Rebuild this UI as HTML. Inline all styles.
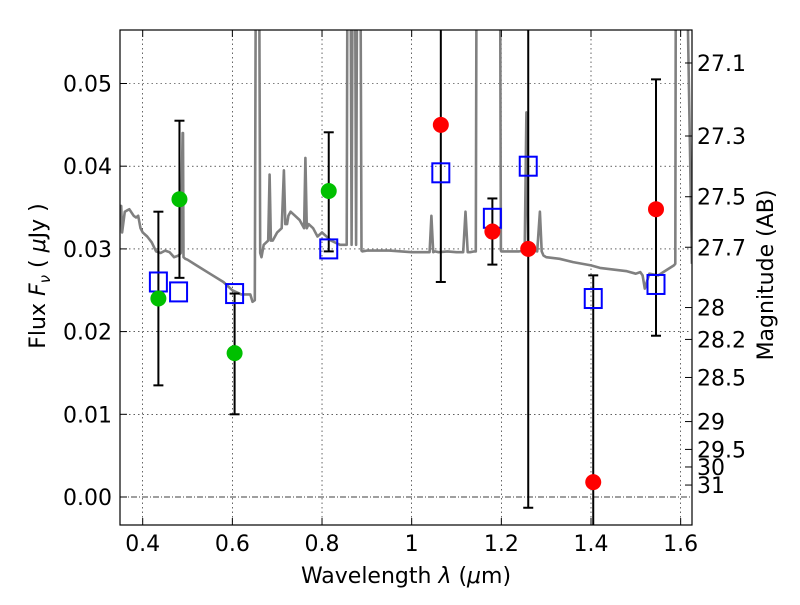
<!DOCTYPE html>
<html><head><meta charset="utf-8"><style>
body{margin:0;background:#fff;}
svg text{font-family:"DejaVu Sans","Liberation Sans",sans-serif;fill:#000;}
</style></head><body>
<svg id="chart" width="800" height="600" xmlns="http://www.w3.org/2000/svg">
<defs><clipPath id="clip"><rect x="120" y="30" width="572" height="495"/></clipPath></defs>
<rect x="0" y="0" width="800" height="600" fill="#fff"/>
<g id="grid"></g>
<g id="spec" clip-path="url(#clip)"></g>
<g id="marks" clip-path="url(#clip)"></g>
<rect x="120" y="30" width="572" height="495" fill="none" stroke="#000" stroke-width="1.2"/>
<g id="axes"></g>
<text x="406" y="583" font-size="22" text-anchor="middle">Wavelength  <tspan font-style="italic">λ</tspan> (<tspan font-style="italic">μ</tspan>m)</text>
<text transform="translate(45,276) rotate(-90)" font-size="22" text-anchor="middle">Flux  <tspan font-style="italic">F</tspan><tspan font-style="italic" font-size="15" dy="5">ν</tspan><tspan dy="-5">  (  </tspan><tspan font-style="italic">μ</tspan>Jy )</text>
<text transform="translate(773,275) rotate(-90)" font-size="22" text-anchor="middle">Magnitude (AB)</text>
</svg>
<script>
const xTicks=[0.4,0.6,0.8,1.0,1.2,1.4,1.6];
const xTickLabels=["0.4","0.6","0.8","1","1.2","1.4","1.6"];
const yTicks=[0,0.01,0.02,0.03,0.04,0.05];
const yTickLabels=["0.00","0.01","0.02","0.03","0.04","0.05"];
const magTicks=[27.1,27.3,27.5,27.7,28,28.2,28.5,29,29.5,30,31];
const specWl=[0.35,0.352,0.354,0.36,0.37,0.38,0.385,0.39,0.395,0.40,0.41,0.42,0.43,0.44,0.45,0.46,0.47,0.48,0.485,0.489,0.49,0.491,0.495,0.50,0.52,0.55,0.58,0.60,0.62,0.64,0.645,0.65,0.652,0.655,0.657,0.66,0.662,0.665,0.67,0.68,0.683,0.686,0.69,0.70,0.71,0.715,0.718,0.722,0.725,0.73,0.74,0.75,0.76,0.763,0.766,0.77,0.78,0.79,0.80,0.82,0.84,0.855,0.858,0.862,0.866,0.87,0.872,0.876,0.88,0.884,0.888,0.89,0.9,0.95,1.0,1.04,1.044,1.048,1.052,1.06,1.08,1.1,1.115,1.12,1.125,1.13,1.14,1.143,1.146,1.196,1.199,1.2,1.22,1.24,1.252,1.256,1.26,1.264,1.27,1.28,1.286,1.29,1.294,1.3,1.33,1.36,1.4,1.42,1.45,1.48,1.5,1.51,1.515,1.52,1.53,1.55,1.57,1.585,1.588,1.59,1.604,1.606,1.625];
const specFlux=[0.0352,0.0352,0.032,0.0345,0.0348,0.034,0.0338,0.034,0.0325,0.032,0.0315,0.0308,0.0297,0.0295,0.0298,0.0296,0.029,0.0292,0.0295,0.044,0.044,0.029,0.0288,0.0287,0.028,0.027,0.026,0.025,0.0245,0.0245,0.0236,0.0238,0.06,0.09,0.09,0.06,0.0295,0.029,0.0305,0.031,0.039,0.031,0.031,0.032,0.0325,0.0395,0.033,0.033,0.034,0.0345,0.034,0.0335,0.0325,0.041,0.0325,0.033,0.0325,0.0315,0.032,0.031,0.0305,0.0305,0.09,0.09,0.0305,0.09,0.09,0.0305,0.09,0.09,0.0298,0.0297,0.0298,0.0298,0.0296,0.0296,0.034,0.0296,0.0297,0.0296,0.0297,0.0296,0.0296,0.0345,0.0296,0.0296,0.0297,0.0297,0.09,0.09,0.0298,0.0297,0.0297,0.0297,0.0298,0.0465,0.0298,0.0298,0.0298,0.0297,0.0345,0.0297,0.0292,0.029,0.0288,0.0284,0.028,0.0277,0.0275,0.0273,0.027,0.0272,0.0268,0.0252,0.027,0.0268,0.0275,0.028,0.0282,0.09,0.09,0.09,0.0282,0.0282];
const greenWl=[0.435,0.482,0.605,0.815];
const greenFlux=[0.0240,0.0360,0.0174,0.0370];
const redWl=[1.065,1.18,1.26,1.405,1.545];
const redFlux=[0.0450,0.0321,0.0300,0.0018,0.0348];
const modelWl=[0.435,0.48,0.605,0.815,1.065,1.18,1.26,1.405,1.545];
const modelFlux=[0.0260,0.0248,0.0246,0.0300,0.0392,0.0337,0.0400,0.0240,0.0257];
const errWl=[0.435,0.482,0.605,0.815,1.065,1.18,1.26,1.405,1.545];
const errLo=[0.0135,0.0265,0.0100,0.0297,0.0260,0.0281,-0.0013,-0.01,0.0195];
const errHi=[0.0345,0.0455,0.0246,0.0441,0.08,0.0361,0.08,0.0268,0.0505];

const X=v=>142.7+(v-0.4)*448.3;
const Y=v=>497-v*8270;
const NS="http://www.w3.org/2000/svg";
function mk(tag,attrs,parent){const e=document.createElementNS(NS,tag);for(const k in attrs)e.setAttribute(k,attrs[k]);parent.appendChild(e);return e;}
const grid=document.getElementById('grid'),axes=document.getElementById('axes'),spec=document.getElementById('spec'),marks=document.getElementById('marks');
xTicks.forEach((t,i)=>{
 const l=mk('line',{x1:X(t),x2:X(t),y1:30,y2:525,stroke:'#000','stroke-width':0.6,'stroke-dasharray':'1.5,3'},grid);
 
 mk('line',{x1:X(t),x2:X(t),y1:525,y2:518,stroke:'#000'},axes);
 mk('line',{x1:X(t),x2:X(t),y1:30,y2:37,stroke:'#000'},axes);
 const tx=mk('text',{x:X(t),y:551,'font-size':22,'text-anchor':'middle'},axes);tx.textContent=xTickLabels[i];
 
});
yTicks.forEach((t,i)=>{
 if(t!==0){const l=mk('line',{x1:120,x2:692,y1:Y(t),y2:Y(t),stroke:'#000','stroke-width':0.6,'stroke-dasharray':'1.5,3'},grid);
 }
 mk('line',{x1:120,x2:127,y1:Y(t),y2:Y(t),stroke:'#000'},axes);
 const tx=mk('text',{x:112,y:Y(t)+8,'font-size':22,'text-anchor':'end'},axes);tx.textContent=yTickLabels[i];
 
});
const zl=mk('line',{x1:120,x2:692,y1:Y(0),y2:Y(0),stroke:'#000','stroke-width':0.7,'stroke-dasharray':'6,2,1,2'},grid);

magTicks.forEach(m=>{
 const f=Math.pow(10,(23.9-m)/2.5);const y=Y(f);
 mk('line',{x1:692,x2:685,y1:y,y2:y,stroke:'#000'},axes);
 const tx=mk('text',{x:697,y:y+8,'font-size':22},axes);tx.textContent=String(m);
 
});
const sp=mk('polyline',{points:specWl.map((w,i)=>X(w).toFixed(1)+','+Y(specFlux[i]).toFixed(1)).join(' '),fill:'none',stroke:'#808080','stroke-width':2.6,'stroke-linejoin':'round'},spec);

errWl.forEach((w,i)=>{
 const x=X(w);
 mk('line',{x1:x,x2:x,y1:Y(errLo[i]),y2:Y(errHi[i]),stroke:'#000','stroke-width':2},marks);
 mk('line',{x1:x-5,x2:x+5,y1:Y(errLo[i]),y2:Y(errLo[i]),stroke:'#000','stroke-width':2},marks);
 const cap=mk('line',{x1:x-5,x2:x+5,y1:Y(errHi[i]),y2:Y(errHi[i]),stroke:'#000','stroke-width':2},marks);
 
});
modelWl.forEach((w,i)=>{
 const r=mk('rect',{x:X(w)-8.5,y:Y(modelFlux[i])-9.5,width:17,height:19,fill:'none',stroke:'#0000ff','stroke-width':2},marks);
 
});
greenWl.forEach((w,i)=>{
 const c=mk('circle',{cx:X(w),cy:Y(greenFlux[i]),r:8,fill:'#00c000'},marks);
 
});
redWl.forEach((w,i)=>{
 const c=mk('circle',{cx:X(w),cy:Y(redFlux[i]),r:8,fill:'#ff0000'},marks);
 
});
</script>
</body></html>
